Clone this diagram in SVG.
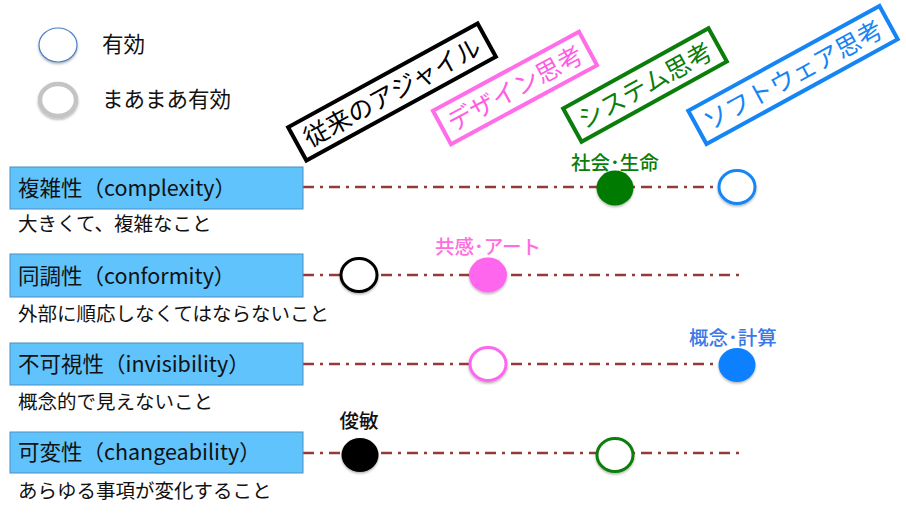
<svg xmlns="http://www.w3.org/2000/svg" width="906" height="516" viewBox="0 0 906 516">
<defs>
<filter id="sh" x="-30%" y="-30%" width="160%" height="170%">
<feDropShadow dx="0" dy="1.5" stdDeviation="1.2" flood-color="#000" flood-opacity="0.3"/>
</filter>
<style>
text{font-family:"Noto Sans CJK JP","Noto Sans",sans-serif;}
.box{fill:#60c3fb;stroke:#4a8fc4;stroke-width:1;}
.bt{font-size:21.5px;fill:#111;}
.st{font-size:19.5px;fill:#111;}
.line{stroke:#963a38;stroke-width:2.5;fill:none;stroke-dasharray:11 6 3 6;}
.tag{fill:none;stroke-width:4;}
.tt{font-size:25px;text-anchor:middle;}
.lab{font-size:19.5px;text-anchor:middle;font-weight:500;}
.ring{fill:#fff;stroke-width:3;}
</style>
</defs>

<g id="legend">
<ellipse cx="58" cy="45" rx="19" ry="17" fill="#fff" stroke="#4a7fc4" stroke-width="1.2" filter="url(#sh)"/>
<text x="102" y="52" font-size="21.5" fill="#111">有効</text>
<ellipse cx="58" cy="100" rx="18" ry="16" fill="#fff" stroke="#c4c4c4" stroke-width="4.5" filter="url(#sh)"/>
<text x="102" y="107" font-size="21.5" fill="#111">まあまあ有効</text>
</g>

<g id="connectors">
<line class="line" x1="303" y1="187" x2="720" y2="187"/>
<line class="line" x1="303" y1="275" x2="740" y2="275"/>
<line class="line" x1="303" y1="364" x2="720" y2="364"/>
<line class="line" x1="303" y1="453" x2="740" y2="453"/>
</g>

<g id="tag-agile" transform="translate(392,92) rotate(-28.7)">
<rect class="tag" x="-108" y="-19" width="216" height="38" stroke="#000"/>
<text class="tt" x="0" y="9.5" fill="#000">従来のアジャイル</text>
</g>
<g id="tag-design" transform="translate(515,88) rotate(-28.4)">
<rect class="tag" x="-83" y="-19" width="166" height="38" stroke="#ff6ee8"/>
<text class="tt" x="0" y="9.5" fill="#ff5ce6">デザイン思考</text>
</g>
<g id="tag-system" transform="translate(645,85) rotate(-28.9)">
<rect class="tag" x="-83" y="-19" width="166" height="38" stroke="#0a7d0a"/>
<text class="tt" x="0" y="9.5" fill="#0a7d0a">システム思考</text>
</g>
<g id="tag-software" transform="translate(793,75) rotate(-28.7)">
<rect class="tag" x="-109" y="-19" width="218" height="38" stroke="#1585f5"/>
<text class="tt" x="0" y="9.5" fill="#1585f5">ソフトウェア思考</text>
</g>

<g id="row-complexity">
<rect class="box" x="10" y="167" width="293" height="42"/>
<text class="bt" x="18" y="196">複雑性（complexity）</text>
<text class="st" x="18" y="231">大きくて、複雑なこと</text>
</g>
<g id="row-conformity">
<rect class="box" x="10" y="254" width="293" height="43"/>
<text class="bt" x="18" y="284">同調性（conformity）</text>
<text class="st" x="18" y="321">外部に順応しなくてはならないこと</text>
</g>
<g id="row-invisibility">
<rect class="box" x="10" y="343" width="293" height="42"/>
<text class="bt" x="18" y="372">不可視性（invisibility）</text>
<text class="st" x="18" y="409">概念的で見えないこと</text>
</g>
<g id="row-changeability">
<rect class="box" x="10" y="432" width="293" height="41"/>
<text class="bt" x="18" y="460">可変性（changeability）</text>
<text class="st" x="18" y="498">あらゆる事項が変化すること</text>
</g>

<g id="c1-system">
<ellipse cx="615" cy="188" rx="18.5" ry="17.5" fill="#007a00" filter="url(#sh)"/>
<text class="lab" x="615" y="170" fill="#0a7d0a">社会･生命</text>
</g>
<g id="c1-software">
<ellipse class="ring" cx="737" cy="187" rx="18" ry="16.5" stroke="#1585f5" filter="url(#sh)"/>
</g>
<g id="c2-agile">
<ellipse class="ring" cx="359" cy="275" rx="18" ry="16.5" stroke="#000" filter="url(#sh)"/>
</g>
<g id="c2-design">
<ellipse cx="488" cy="275" rx="19" ry="17.5" fill="#ff66ee" filter="url(#sh)"/>
<text class="lab" x="488" y="254" fill="#ff6ee0" font-weight="normal">共感･アート</text>
</g>
<g id="c3-design">
<ellipse class="ring" cx="488" cy="364" rx="18" ry="16.5" stroke="#ff66ee" filter="url(#sh)"/>
</g>
<g id="c3-software">
<ellipse cx="737" cy="365" rx="18.5" ry="17" fill="#0a80ff" filter="url(#sh)"/>
<text class="lab" x="733" y="345" fill="#3a78e8">概念･計算</text>
</g>
<g id="c4-agile">
<ellipse cx="360" cy="455" rx="18.5" ry="17" fill="#000" filter="url(#sh)"/>
<text class="lab" x="359" y="428" fill="#111">俊敏</text>
</g>
<g id="c4-system">
<ellipse class="ring" cx="615" cy="455" rx="18" ry="16.5" stroke="#0a7d0a" filter="url(#sh)"/>
</g>
</svg>
